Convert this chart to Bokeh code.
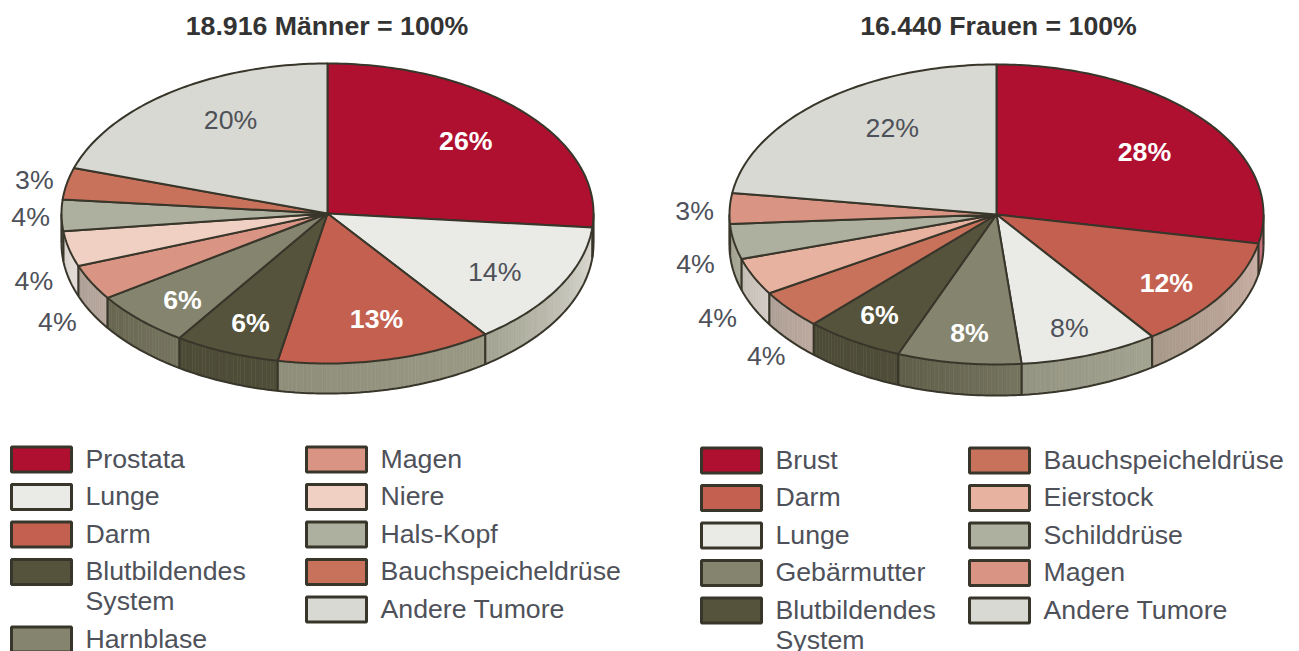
import math
from bokeh.plotting import figure
from bokeh.models import Range1d
from bokeh.core.properties import value
from bokeh.embed import file_html
from bokeh.resources import INLINE

# ---------- data ----------
men_title = "18.916 Männer = 100%"
men_names = ["Prostata", "Lunge", "Darm", "Blutbildendes\nSystem", "Harnblase",
             "Magen", "Niere", "Hals-Kopf", "Bauchspeicheldrüse", "Andere Tumore"]
men_values = [26, 14, 13, 6, 6, 4, 4, 4, 3, 20]            # printed percentages
men_shares = [26.5, 13.4, 13.1, 6.4, 6.1, 3.8, 3.8, 3.4, 3.4, 20.1]  # slice sizes

women_title = "16.440 Frauen = 100%"
women_names = ["Brust", "Darm", "Lunge", "Gebärmutter", "Blutbildendes\nSystem",
               "Bauchspeicheldrüse", "Eierstock", "Schilddrüse", "Magen", "Andere Tumore"]
women_values = [28, 12, 8, 8, 6, 4, 4, 4, 3, 22]
women_shares = [28.1, 12.0, 8.4, 7.5, 6.0, 4.2, 4.0, 3.8, 3.3, 22.7]

# ---------- colours ----------
men_colors = ["#b01030", "#eaebe6", "#c46050", "#55533c", "#85856f",
              "#d99483", "#f0d0c2", "#aeb09f", "#c8725c", "#d8d9d2"]
men_wall_a = ["#8a2a35", "#dedcd4", "#999985", "#4f4e38", "#75745f",
              "#b8a89e", "#e4dcd8", "#a5a594", "#b8a89e", "#d8d9d2"]
men_wall_b = ["#8a2a35", "#a3a393", "#8e8e7a", "#4c4b36", "#67664f",
              "#ad9f95", "#d8d0cb", "#a5a594", "#b8a89e", "#d8d9d2"]
women_colors = ["#b01030", "#c46050", "#eaebe6", "#85856f", "#55533c",
                "#c8725c", "#e8b2a0", "#aeb09f", "#d99483", "#d8d9d2"]
women_wall_a = ["#c4707a", "#c9aca3", "#a3a391", "#75745f", "#4f4e38",
                "#bca99f", "#d2cbc4", "#a8a897", "#d99483", "#d8d9d2"]
women_wall_b = ["#c4707a", "#a89a8a", "#949483", "#5f5e48", "#4c4b36",
                "#ad9f95", "#c4bcb4", "#a0a08f", "#d99483", "#d8d9d2"]
EDGE = "#38362a"
TEXT = "#4e5159"
FONT = "Liberation Sans"
FS = "26.7px"

# ---------- layout ----------
men_geo = dict(cx=327, cy=213, rx=266, ry=150, depth=30)
women_geo = dict(cx=996, cy=214, rx=267, ry=150, depth=31)
# label placement: radial factor on the ellipse, angular shift from the printed share's middle
men_rho = [.71, .748, .737, .793, .798, 1.249, 1.19, 1.113, 1.12, .717]
men_shift = [.7, 3.5, -2.2, -.5, -.5, -7.1, -8, -1.7, -1.3, 5.8]
men_white = [True, False, True, True, True, False, False, False, False, False]
women_rho = [.694, .792, .809, .80, .807, 1.278, 1.254, 1.174, 1.127, .691]
women_shift = [3.1, 3.7, 1.6, -.2, .2, -8.2, -8.7, -6, -1.1, 7.4]
women_white = [True, True, False, True, True, False, False, False, False, False]

W, H = 1299, 651
p = figure(width=W, height=H, x_range=Range1d(0, W), y_range=Range1d(H, 0),
           output_backend="svg", toolbar_location=None, min_border=0,
           outline_line_color=None, background_fill_color="white")
p.xaxis.visible = False
p.yaxis.visible = False
p.grid.visible = False


def hex2rgb(h):
    return [int(h[i:i + 2], 16) for i in (1, 3, 5)]


def mix(a, b, f):
    ca, cb = hex2rgb(a), hex2rgb(b)
    return "#%02x%02x%02x" % tuple(round(x + (y - x) * f) for x, y in zip(ca, cb))


def cumulative(vals):
    out = [0.0]
    for v in vals:
        out.append(out[-1] + v * 3.6)
    out[-1] = 360.0
    return out


def draw_pie(vals, shares, colors, wall_a, wall_b, rho, shift, white, geo):
    cx, cy, rx, ry, d = geo["cx"], geo["cy"], geo["rx"], geo["ry"], geo["depth"]

    def pt(t, dy=0.0):
        r = math.radians(t)
        return cx + rx * math.sin(r), cy - ry * math.cos(r) + dy

    limits = cumulative(shares)

    # outer wall (visible for 90..270 degrees)
    qx, qy, qc = [], [], []
    for i in range(len(shares)):
        a, b = max(limits[i], 90), min(limits[i + 1], 270)
        if b <= a:
            continue
        n = max(2, int((b - a) / 0.8))
        ts = [a + (b - a) * k / n for k in range(n + 1)]
        for k in range(n):
            x0, y0 = pt(ts[k])
            x1, y1 = pt(ts[k + 1])
            qx.append([x0, x1, x1, x0])
            qy.append([y0, y1, y1 + d, y0 + d])
            qc.append(mix(wall_a[i], wall_b[i], k / max(1, n - 1)))
    p.patches(qx, qy, fill_color=qc, line_color=qc, line_width=0.6)

    ts = [90 + k for k in range(181)]
    low = [pt(t, d) for t in ts]
    p.line([q[0] for q in low], [q[1] for q in low], line_color=EDGE, line_width=2)
    for a in limits + [90, 270]:
        if 90 <= a <= 270:
            x, y = pt(a)
            p.line([x, x], [y, y + d], line_color=EDGE, line_width=2.2)

    # top face
    xs, ys = [], []
    for i in range(len(shares)):
        a, b = limits[i], limits[i + 1]
        n = max(2, int(b - a))
        arc = [pt(a + (b - a) * k / n) for k in range(n + 1)]
        xs.append([cx] + [q[0] for q in arc])
        ys.append([cy] + [q[1] for q in arc])
    p.patches(xs, ys, fill_color=colors, line_color=EDGE, line_width=2, line_join="round")

    # percent labels
    lab = cumulative(vals)
    for i, v in enumerate(vals):
        t = math.radians((lab[i] + lab[i + 1]) / 2 + shift[i])
        x = cx + rx * rho[i] * math.sin(t) - 1
        y = cy - ry * rho[i] * math.cos(t) - 1
        p.text([x], [y], text=[f"{v}%"], text_color="#ffffff" if white[i] else TEXT,
               text_font=value(FONT), text_font_size=FS,
               text_font_style="bold" if white[i] else "normal",
               text_align="center", text_baseline="middle")


def draw_legend(names, colors, columns, first_y):
    step, line_gap, sw, sh = 37.5, 30, 60, 25
    for sx, tx, idx in columns:
        y = first_y
        for i in idx:
            p.quad(left=[sx], right=[sx + sw], top=[y - sh / 2], bottom=[y + sh / 2],
                   fill_color=colors[i], line_color=EDGE, line_width=3)
            lines = names[i].split("\n")
            for k, s in enumerate(lines):
                p.text([tx], [y - 1 + k * line_gap], text=[s], text_color=TEXT,
                       text_font=value(FONT), text_font_size=FS,
                       text_align="left", text_baseline="middle")
            y += step + (len(lines) - 1) * line_gap


draw_pie(men_values, men_shares, men_colors, men_wall_a, men_wall_b, men_rho, men_shift,
         men_white, men_geo)
draw_pie(women_values, women_shares, women_colors, women_wall_a, women_wall_b, women_rho,
         women_shift, women_white, women_geo)

for s, x in ((men_title, 326.5), (women_title, 998)):
    p.text([x], [25.5], text=[s], text_color="#333333", text_font=value(FONT), text_font_size=FS,
           text_font_style="bold", text_align="center", text_baseline="middle")

draw_legend(men_names, men_colors,
            [(11, 85, range(0, 5)), (306, 380, range(5, 10))], 459)
draw_legend(women_names, women_colors,
            [(701, 775, range(0, 5)), (969, 1043, range(5, 10))], 460)

open("out.html", "w").write(file_html(p, INLINE))
